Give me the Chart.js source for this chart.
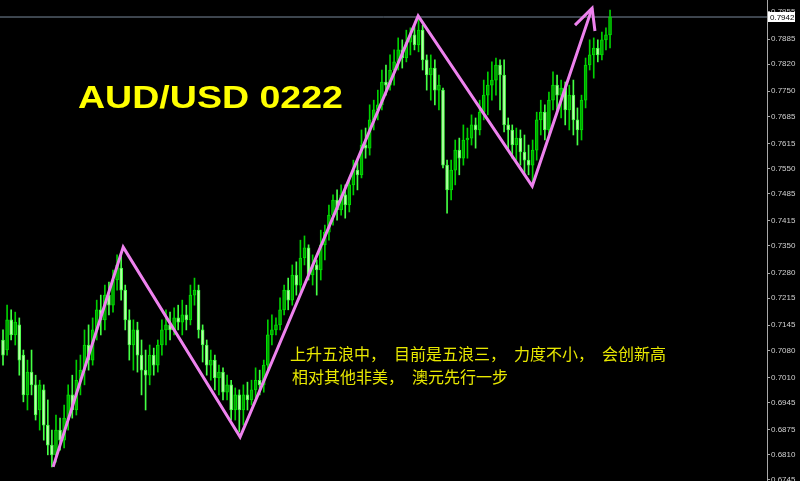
<!DOCTYPE html>
<html>
<head>
<meta charset="utf-8">
<script src="https://cdn.jsdelivr.net/npm/chart.js@4/dist/chart.umd.min.js"></script>
<style>
  html, body { margin: 0; padding: 0; background: #000; }
  #wrap { width: 800px; height: 481px; }
</style>
</head>
<body>
<div id="wrap"><canvas id="chart" width="800" height="481"></canvas></div>
<script>
// AUD/USD candles (left to right)
const opens = [
  0.7107,0.7081,0.7159,0.7120,0.7146,0.7068,0.6965,0.7024,0.6991,0.6926,
  0.6978,0.6887,0.6835,0.6810,0.6874,0.6848,0.6900,0.6965,0.6926,0.7003,
  0.7029,0.7094,0.7055,0.7133,0.7185,0.7159,0.7223,0.7197,0.7262,0.7293,
  0.7236,0.7159,0.7094,0.7133,0.7068,0.7029,0.7016,0.7068,0.7042,0.7094,
  0.7133,0.7146,0.7133,0.7164,0.7153,0.7172,0.7159,0.7223,0.7236,0.7133,
  0.7094,0.7042,0.7055,0.7009,0.7024,0.6972,0.6991,0.6926,0.6965,0.6926,
  0.6965,0.6952,0.6978,0.7003,0.6991,0.7042,0.7120,0.7133,0.7146,0.7185,
  0.7236,0.7210,0.7275,0.7249,0.7319,0.7345,0.7275,0.7301,0.7288,0.7353,
  0.7386,0.7430,0.7469,0.7443,0.7482,0.7456,0.7508,0.7546,0.7534,0.7611,
  0.7603,0.7676,0.7702,0.7715,0.7774,0.7766,0.7805,0.7826,0.7857,0.7836,
  0.7877,0.7896,0.7870,0.7908,0.7831,0.7792,0.7810,0.7753,0.7753,0.7559,
  0.7495,0.7546,0.7598,0.7577,0.7624,0.7629,0.7663,0.7650,0.7696,0.7740,
  0.7766,0.7779,0.7818,0.7792,0.7663,0.7650,0.7611,0.7629,0.7593,0.7572,
  0.7559,0.7598,0.7676,0.7696,0.7650,0.7727,0.7766,0.7740,0.7758,0.7702,
  0.7740,0.7676,0.7650,0.7727,0.7818,0.7844,0.7862,0.7844,0.7883,0.7896
];
const highs = [
  0.7133,0.7197,0.7185,0.7179,0.7164,0.7081,0.7055,0.7081,0.7016,0.7003,
  0.6991,0.6952,0.6874,0.6913,0.6905,0.6939,0.6991,0.7016,0.7055,0.7068,
  0.7133,0.7146,0.7164,0.7210,0.7223,0.7249,0.7257,0.7288,0.7327,0.7327,
  0.7249,0.7185,0.7159,0.7153,0.7107,0.7081,0.7094,0.7086,0.7107,0.7159,
  0.7185,0.7179,0.7190,0.7197,0.7210,0.7197,0.7249,0.7267,0.7249,0.7146,
  0.7107,0.7081,0.7068,0.7042,0.7035,0.7016,0.7003,0.6983,0.6978,0.6991,
  0.6998,0.7003,0.7035,0.7029,0.7055,0.7159,0.7172,0.7164,0.7216,0.7249,
  0.7267,0.7301,0.7309,0.7365,0.7376,0.7353,0.7327,0.7314,0.7391,0.7404,
  0.7456,0.7482,0.7495,0.7508,0.7508,0.7526,0.7572,0.7572,0.7650,0.7655,
  0.7715,0.7727,0.7753,0.7805,0.7818,0.7844,0.7857,0.7888,0.7883,0.7908,
  0.7914,0.7921,0.7945,0.7921,0.7844,0.7844,0.7831,0.7792,0.7758,0.7572,
  0.7572,0.7624,0.7629,0.7663,0.7655,0.7689,0.7681,0.7727,0.7779,0.7800,
  0.7826,0.7836,0.7831,0.7831,0.7681,0.7663,0.7655,0.7650,0.7637,0.7611,
  0.7624,0.7696,0.7727,0.7715,0.7748,0.7800,0.7792,0.7779,0.7774,0.7766,
  0.7779,0.7707,0.7740,0.7836,0.7883,0.7888,0.7883,0.7903,0.7914,0.7960
];
const lows = [
  0.7042,0.7068,0.7107,0.7094,0.7016,0.6947,0.6926,0.6965,0.6900,0.6874,
  0.6848,0.6810,0.6779,0.6791,0.6822,0.6828,0.6874,0.6905,0.6913,0.6965,
  0.6991,0.7029,0.7042,0.7107,0.7120,0.7133,0.7172,0.7179,0.7236,0.7210,
  0.7133,0.7055,0.7029,0.7024,0.6965,0.6926,0.6991,0.7016,0.7024,0.7068,
  0.7094,0.7107,0.7120,0.7133,0.7120,0.7133,0.7146,0.7197,0.7112,0.7050,
  0.7016,0.7003,0.6978,0.6965,0.6952,0.6952,0.6900,0.6900,0.6869,0.6887,
  0.6926,0.6939,0.6957,0.6965,0.6972,0.7029,0.7094,0.7120,0.7133,0.7172,
  0.7185,0.7197,0.7223,0.7231,0.7301,0.7262,0.7249,0.7223,0.7262,0.7314,
  0.7365,0.7404,0.7417,0.7430,0.7422,0.7438,0.7482,0.7495,0.7526,0.7577,
  0.7585,0.7650,0.7676,0.7702,0.7740,0.7753,0.7766,0.7805,0.7810,0.7826,
  0.7844,0.7857,0.7852,0.7805,0.7753,0.7727,0.7715,0.7702,0.7552,0.7435,
  0.7469,0.7508,0.7534,0.7559,0.7577,0.7611,0.7603,0.7637,0.7676,0.7689,
  0.7727,0.7740,0.7702,0.7645,0.7598,0.7577,0.7572,0.7559,0.7534,0.7534,
  0.7508,0.7572,0.7637,0.7624,0.7637,0.7702,0.7702,0.7681,0.7663,0.7650,
  0.7637,0.7611,0.7624,0.7707,0.7805,0.7784,0.7826,0.7831,0.7857,0.7862
];
const closes = [
  0.7068,0.7159,0.7120,0.7153,0.7055,0.6965,0.7024,0.6991,0.6913,0.6991,
  0.6887,0.6835,0.6810,0.6874,0.6848,0.6905,0.6965,0.6926,0.7003,0.7029,
  0.7094,0.7055,0.7133,0.7185,0.7159,0.7223,0.7197,0.7262,0.7301,0.7236,
  0.7159,0.7094,0.7133,0.7068,0.7029,0.7016,0.7068,0.7042,0.7094,0.7133,
  0.7146,0.7133,0.7164,0.7153,0.7172,0.7159,0.7223,0.7236,0.7133,0.7094,
  0.7042,0.7055,0.7009,0.7024,0.6972,0.6991,0.6926,0.6965,0.6926,0.6965,
  0.6952,0.6978,0.7003,0.6991,0.7042,0.7120,0.7133,0.7146,0.7185,0.7236,
  0.7210,0.7275,0.7249,0.7319,0.7345,0.7275,0.7301,0.7288,0.7353,0.7386,
  0.7430,0.7469,0.7443,0.7482,0.7456,0.7508,0.7546,0.7534,0.7611,0.7603,
  0.7676,0.7702,0.7715,0.7774,0.7766,0.7805,0.7826,0.7857,0.7836,0.7877,
  0.7896,0.7870,0.7908,0.7831,0.7792,0.7810,0.7753,0.7766,0.7559,0.7495,
  0.7546,0.7598,0.7577,0.7624,0.7629,0.7663,0.7650,0.7696,0.7740,0.7766,
  0.7779,0.7818,0.7792,0.7663,0.7650,0.7611,0.7629,0.7593,0.7572,0.7559,
  0.7598,0.7676,0.7696,0.7650,0.7727,0.7766,0.7740,0.7758,0.7702,0.7740,
  0.7676,0.7650,0.7727,0.7818,0.7844,0.7862,0.7844,0.7883,0.7896,0.7942
];

// price labels on the right axis
const priceTicks = [0.7955,0.7885,0.7820,0.7750,0.7685,0.7615,0.7550,0.7485,0.7415,0.7350,
  0.7280,0.7215,0.7145,0.7080,0.7010,0.6945,0.6875,0.6810,0.6745];

// hand-drawn wave line (bar index, price) and its arrow head
const waveX = [12.3, 29.5, 58.2, 101.9, 129.9, 144.6];
const waveY = [0.6779, 0.7347, 0.6856, 0.7945, 0.7505, 0.7965];
const arrowX = [140.4, 144.6, 145.3];
const arrowY = [0.7921, 0.7965, 0.7906];

const title = 'AUD/USD 0222';
const noteLines = ['上升五浪中，　目前是五浪三，　力度不小，　会创新高', '相对其他非美，　澳元先行一步'];

const X_MIN = -0.74, X_MAX = 187.53;
const Y_MIN = 0.67424, Y_MAX = 0.79860;
const lastPrice = closes[closes.length - 1];

const isDown = i => closes[i] < opens[i];
const wickColors = closes.map((c, i) => isDown(i) ? '#44ff44' : '#00d000');
const bodyFill = closes.map((c, i) => isDown(i) ? '#b8ffa8' : '#00a400');
const bodyBorder = closes.map((c, i) => isDown(i) ? '#44ff44' : '#00e000');

const bgPlugin = {
  id: 'bg',
  beforeDraw(chart) {
    const ctx = chart.ctx;
    ctx.save();
    ctx.fillStyle = '#000';
    ctx.fillRect(0, 0, chart.width, chart.height);
    ctx.restore();
  }
};

const textPlugin = {
  id: 'texts',
  afterDraw(chart) {
    const ctx = chart.ctx;
    const y = chart.scales.y;
    ctx.save();
    // title
    ctx.font = 'bold 32px "Liberation Sans", Arial, sans-serif';
    ctx.fillStyle = '#ffff00';
    ctx.textBaseline = 'alphabetic';
    const w = ctx.measureText(title).width;
    ctx.translate(78, 108);
    ctx.scale(265 / w, 1);
    ctx.fillText(title, 0, 0);
    ctx.setTransform(1, 0, 0, 1, 0, 0);
    // note
    ctx.font = '16px "Noto Sans CJK SC", sans-serif';
    ctx.fillStyle = '#e8e800';
    ctx.textBaseline = 'middle';
    ctx.fillText(noteLines[0], 290, 354);
    ctx.fillText(noteLines[1], 292, 377);
    // current price box
    const py = y.getPixelForValue(lastPrice);
    ctx.fillStyle = '#ffffff';
    ctx.fillRect(768, Math.round(py) - 5, 27, 10);
    ctx.fillStyle = '#000';
    ctx.font = '8px "Liberation Sans", Arial, sans-serif';
    ctx.textAlign = 'left';
    ctx.fillText(lastPrice.toFixed(4), 770, Math.round(py) + 0.5);
    ctx.restore();
  }
};

new Chart(document.getElementById('chart'), {
  type: 'bar',
  data: {
    datasets: [
      {
        type: 'line',
        data: waveX.map((x, i) => ({x: x, y: waveY[i]})),
        borderColor: '#ee82ee',
        borderWidth: 3,
        pointRadius: 0,
        tension: 0,
        order: 0
      },
      {
        type: 'line',
        data: arrowX.map((x, i) => ({x: x, y: arrowY[i]})),
        borderColor: '#ee82ee',
        borderWidth: 3,
        pointRadius: 0,
        tension: 0,
        order: 0
      },
      {
        type: 'bar',
        data: closes.map((c, i) => ({x: i, y: [opens[i], c]})),
        backgroundColor: bodyFill,
        borderColor: bodyBorder,
        borderWidth: 1,
        borderSkipped: false,
        barThickness: 3,
        minBarLength: 1,
        grouped: false,
        order: 1
      },
      {
        type: 'bar',
        data: closes.map((c, i) => ({x: i, y: [lows[i], highs[i]]})),
        backgroundColor: wickColors,
        borderWidth: 0,
        barThickness: 1,
        grouped: false,
        order: 2
      },
      {
        type: 'line',
        data: [{x: X_MIN, y: lastPrice}, {x: X_MAX, y: lastPrice}],
        borderColor: '#7a8a9c',
        borderWidth: 1,
        pointRadius: 0,
        order: 3
      }
    ]
  },
  options: {
    responsive: false,
    animation: false,
    devicePixelRatio: 1,
    layout: {padding: 0},
    plugins: {legend: {display: false}, tooltip: {enabled: false}},
    scales: {
      x: {
        type: 'linear',
        min: X_MIN,
        max: X_MAX,
        offset: false,
        display: false
      },
      y: {
        position: 'right',
        min: Y_MIN,
        max: Y_MAX,
        border: {display: true, color: '#a8a8a8', width: 1},
        grid: {drawOnChartArea: false, tickLength: 3, color: '#a8a8a8'},
        ticks: {
          autoSkip: false,
          padding: 1,
          color: '#d0d0d0',
          font: {family: '"Liberation Sans", Arial, sans-serif', size: 8},
          callback: v => v.toFixed(4)
        },
        afterBuildTicks: scale => {
          scale.ticks = priceTicks.map(v => ({value: v}));
        },
        afterFit: scale => {
          scale.width = 33;
          scale.paddingTop = 0;
          scale.paddingBottom = 0;
        }
      }
    }
  },
  plugins: [bgPlugin, textPlugin]
});
</script>
</body>
</html>
